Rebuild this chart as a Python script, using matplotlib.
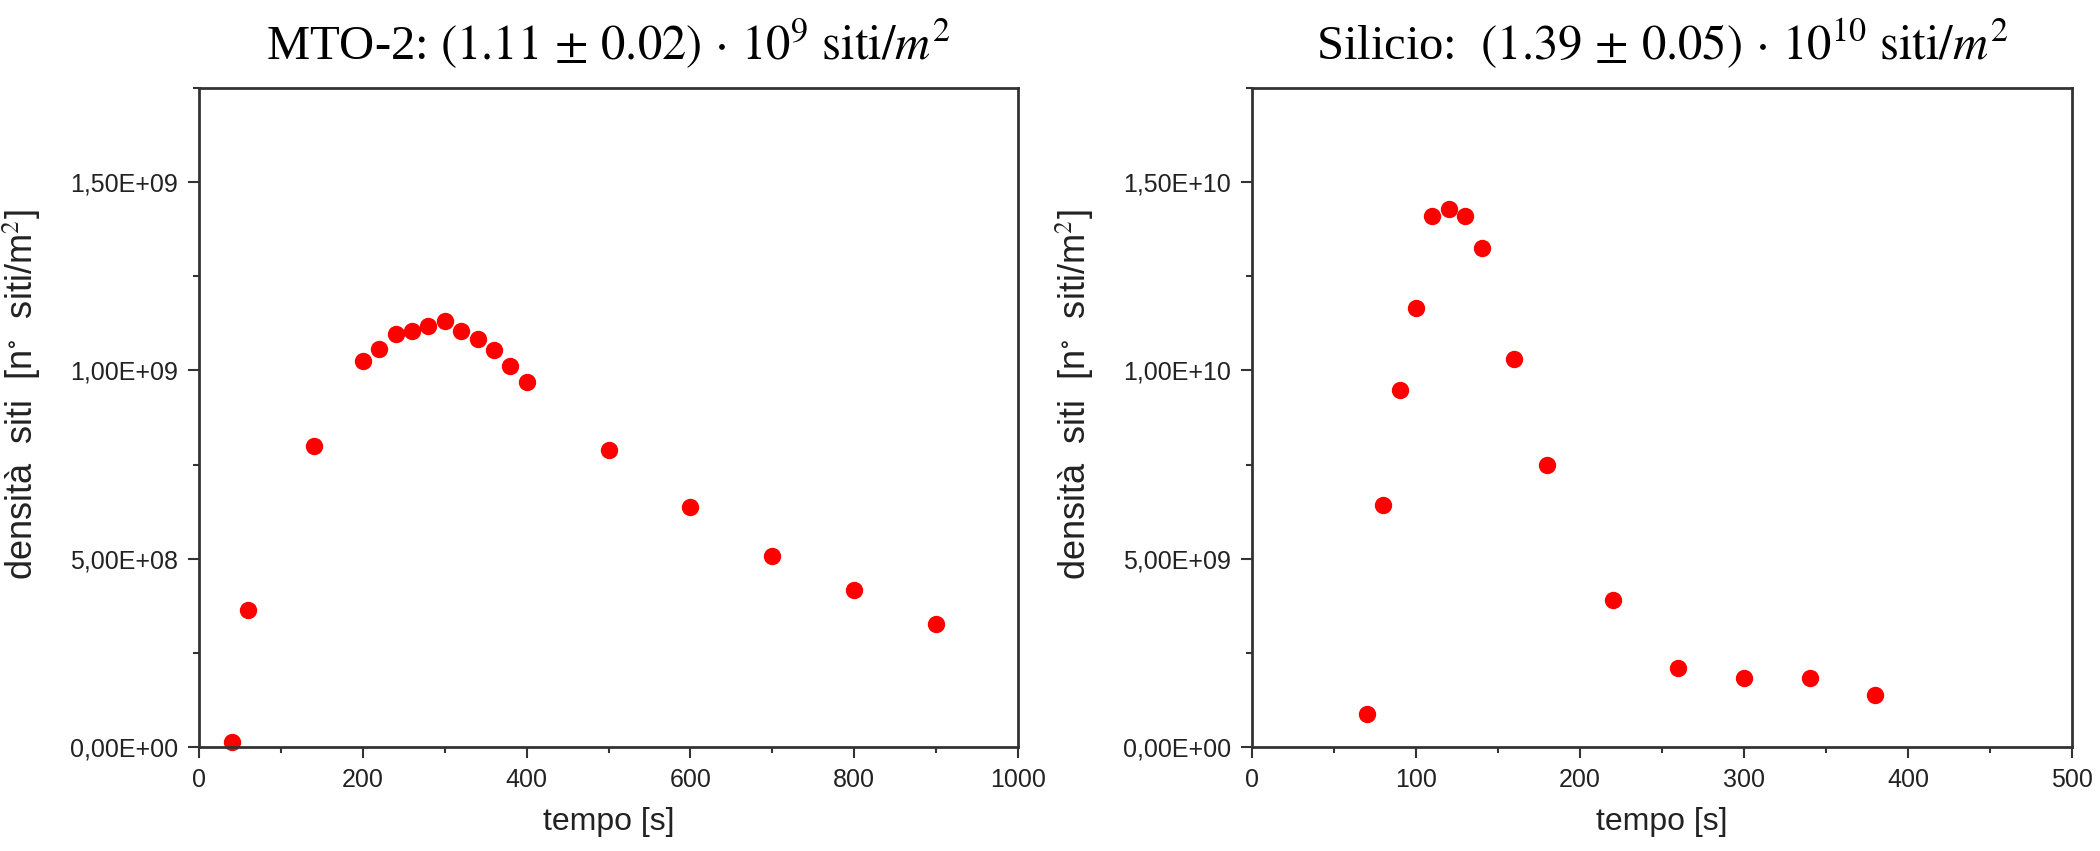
import matplotlib
matplotlib.use("Agg")
import matplotlib.pyplot as plt
from matplotlib.ticker import FuncFormatter, MultipleLocator

# MTO-2 site density vs time
t_mto = [40, 60, 140, 200, 220, 240, 260, 280, 300, 320, 340, 360, 380, 400,
         500, 600, 700, 800, 900]
d_mto = [1.2e7, 3.64e8, 7.99e8, 1.026e9, 1.057e9, 1.096e9, 1.105e9, 1.117e9,
         1.130e9, 1.105e9, 1.083e9, 1.054e9, 1.011e9, 9.70e8,
         7.89e8, 6.38e8, 5.07e8, 4.18e8, 3.27e8]

# Silicio site density vs time
t_si = [70, 80, 90, 100, 110, 120, 130, 140, 160, 180, 220, 260, 300, 340, 380]
d_si = [8.7e8, 6.42e9, 9.48e9, 1.165e10, 1.411e10, 1.428e10, 1.411e10,
        1.326e10, 1.031e10, 7.50e9, 3.90e9, 2.11e9, 1.84e9, 1.82e9, 1.37e9]

title_mto = r"MTO-2: $(1.11\,\pm\,0.02)\,\cdot\,10^{9}\ \mathrm{siti}/m^{2}$"
title_si = r"Silicio:  $(1.39\,\pm\,0.05)\,\cdot\,10^{10}\ \mathrm{siti}/m^{2}$"

plt.rcParams['font.family'] = ['Liberation Sans', 'DejaVu Sans']
plt.rcParams['mathtext.fontset'] = 'stix'

spine_col = '#333333'


def sci_comma(v, pos):
    return f"{v:.2E}".replace('.', ',')


def style_axes(ax, xmax, xmajor, xminor, ymax, ymajor):
    ax.set_xlim(0, xmax)
    ax.set_ylim(0, ymax)
    ax.xaxis.set_major_locator(MultipleLocator(xmajor))
    ax.xaxis.set_minor_locator(MultipleLocator(xminor))
    ax.yaxis.set_major_locator(MultipleLocator(ymajor))
    ax.yaxis.set_minor_locator(MultipleLocator(ymajor / 2))
    ax.yaxis.set_major_formatter(FuncFormatter(sci_comma))
    for s in ax.spines.values():
        s.set_linewidth(2.0)
        s.set_color(spine_col)
    ax.tick_params(which='major', direction='out', length=8, width=1.5,
                   color=spine_col, labelsize=18, pad=7, labelcolor='#222222')
    ax.tick_params(which='minor', direction='out', length=4, width=1.5,
                   color=spine_col)
    ax.set_xlabel('tempo [s]', fontsize=23, labelpad=11, color='#222222')
    ax.set_ylabel(r'densità  siti  [n$^{\circ}$  siti/m$^{2}$]', fontsize=26,
                  color='#222222')
    ax.yaxis.set_label_coords(-0.19, 0.535)


fig = plt.figure(figsize=(21, 8.51), dpi=100)
ax1 = fig.add_axes([0.0948, 0.1222, 0.390, 0.7744])
ax2 = fig.add_axes([0.5962, 0.1222, 0.3905, 0.7744])

ax1.plot(t_mto, d_mto, 'o', color='#ff0000', markersize=11.5, clip_on=False)
ax2.plot(t_si, d_si, 'o', color='#ff0000', markersize=11.5, clip_on=False)

style_axes(ax1, 1000, 200, 100, 1.75e9, 5e8)
style_axes(ax2, 500, 100, 50, 1.75e10, 5e9)

for ax, ttl in ((ax1, title_mto), (ax2, title_si)):
    ax.set_title(ttl, fontsize=35, pad=20, family=['Liberation Serif', 'DejaVu Serif'])

fig.savefig('out.png', dpi=100)
